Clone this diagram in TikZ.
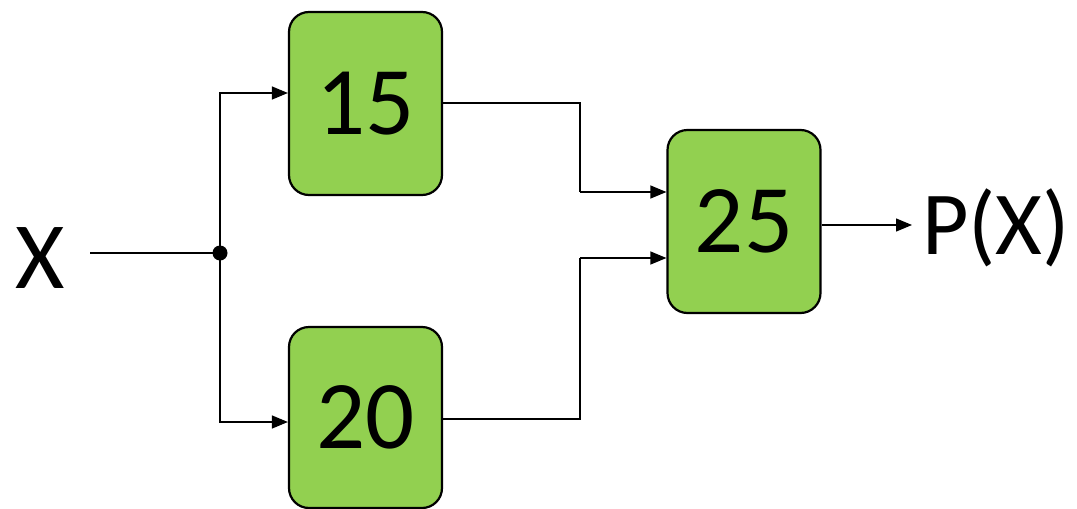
\documentclass[tikz,border=0pt]{standalone}
\usepackage{fontspec}
\setmainfont{Carlito}
\usetikzlibrary{arrows.meta}
\definecolor{boxgreen}{HTML}{92D050}
\begin{document}
\begin{tikzpicture}[x=1pt,y=-1pt,
  blockbox/.style={draw=black,line width=2.2pt,fill=boxgreen,rounded corners=20pt,
    minimum width=153pt,minimum height=183pt,inner sep=0pt,font=\fontsize{97}{97}\selectfont},
  lbl/.style={inner sep=0pt,font=\fontsize{95}{95}\selectfont},
  wire/.style={line width=1.3pt},
  arr/.style={wire,-{Triangle[length=16pt,width=13pt]}}]
\useasboundingbox (0,0) rectangle (1077,509);
\node[blockbox] (b15) at (365.5,103.5) {15};
\node[blockbox,minimum height=181pt] (b20) at (365.5,417.5) {20};
\node[blockbox] (b25) at (744,221.5) {25};
\node[lbl] (x) at (40,258) {X};
\node[lbl,font=\fontsize{90}{90}\selectfont,anchor=east] (px) at (1070,228) {P(X)};
\coordinate (xs) at (90,253);
\coordinate (j) at (220,253);
\coordinate (p1) at (580,192);
\coordinate (p2) at (580,258);
\coordinate (pe) at (912,225);
\draw[wire] (xs) -- (j);
\fill (j) circle (7.5pt);
\draw[arr] (j) |- (b15.west |- 0,93);
\draw[arr] (j) |- (b20.west |- 0,422);
\draw[wire] (b15.east |- 0,103) -| (p1);
\draw[arr] (p1) -- (b25.west |- p1);
\draw[wire] (b20.east |- 0,419) -| (p2);
\draw[arr] (p2) -- (b25.west |- p2);
\draw[arr] (b25.east |- pe) -- (pe);
\end{tikzpicture}
\end{document}
